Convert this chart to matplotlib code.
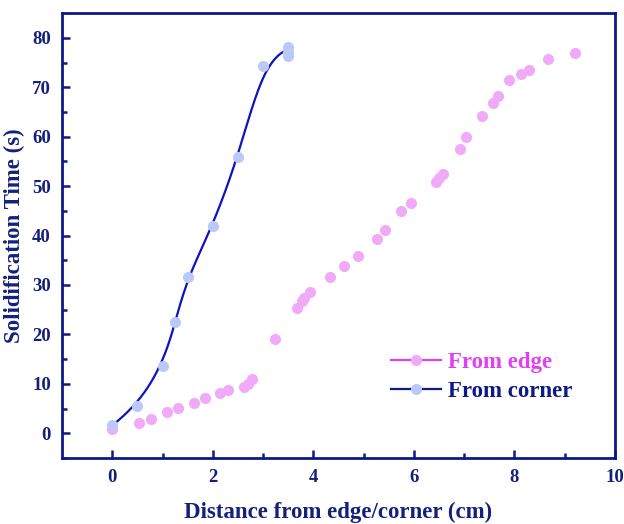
import numpy as np
import matplotlib.pyplot as plt
from matplotlib.lines import Line2D

plt.rcParams['font.family'] = ['Liberation Serif', 'DejaVu Serif']
plt.rcParams['font.weight'] = 'bold'

# distance from edge (cm) vs solidification time (s)
edge_x = [0.0, 0.54, 0.76, 1.08, 1.31, 1.62, 1.84, 2.15, 2.30, 2.62, 2.70, 2.77,
          3.24, 3.67, 3.77, 3.82, 3.94, 4.33, 4.60, 4.88, 5.26, 5.42, 5.75, 5.95,
          6.43, 6.49, 6.57, 6.91, 7.04, 7.36, 7.58, 7.67, 7.89, 8.12, 8.29, 8.66, 9.20]
edge_y = [0.8, 2.0, 2.8, 4.2, 5.1, 6.2, 7.1, 8.2, 8.8, 9.3, 9.9, 11.0,
          19.0, 25.3, 26.7, 27.4, 28.6, 31.6, 33.9, 35.8, 39.4, 41.1, 44.9, 46.5,
          50.9, 51.6, 52.4, 57.6, 59.9, 64.2, 66.8, 68.3, 71.4, 72.6, 73.4, 75.8, 76.9]

# distance from corner (cm)
corner_x = [0.0, 0.5, 1.0, 1.25, 1.5, 2.0, 2.5, 3.0, 3.5, 3.5, 3.5]
corner_y = [1.6, 5.6, 13.6, 22.5, 31.6, 42.0, 55.8, 74.3, 78.1, 77.2, 76.4]

navy = '#0d1a85'
txt = '#14207a'
blue_line = '#0a14c0'
pink = '#f0aaf8'
lightblue = '#bcc8f8'
magenta = '#e040f0'


def basis(i, k, t, knots):
    # Cox-de Boor recursion
    if k == 0:
        last = knots[-1]
        b = ((knots[i] <= t) & (t < knots[i + 1])).astype(float)
        if knots[i + 1] == last and knots[i] < last:
            b[t == last] = 1.0
        return b
    out = np.zeros_like(t)
    d1 = knots[i + k] - knots[i]
    d2 = knots[i + k + 1] - knots[i + 1]
    if d1 > 0:
        out += (t - knots[i]) / d1 * basis(i, k - 1, t, knots)
    if d2 > 0:
        out += (knots[i + k + 1] - t) / d2 * basis(i + 1, k - 1, t, knots)
    return out


def bspline(xs, ys, k=3, n=400):
    # clamped cubic B-spline with the points as control points
    P = np.column_stack([xs, ys]).astype(float)
    m = len(P)
    inner = np.arange(1, m - k)
    knots = np.concatenate([[0] * (k + 1), inner, [m - k] * (k + 1)]).astype(float)
    t = np.linspace(0, m - k, n)
    pts = np.zeros((n, 2))
    for i in range(m):
        pts += np.outer(basis(i, k, t, knots), P[i])
    return pts[:, 0], pts[:, 1]


fig = plt.figure(figsize=(6.24, 5.24), dpi=100)
ax = fig.add_axes([0.0994, 0.126, 0.8862, 0.849])

cx, cy = bspline(corner_x, corner_y)
ax.plot(cx, cy, color=blue_line, lw=1.6, zorder=2)
ax.plot(edge_x, edge_y, 'o', color=pink, ms=8, mec='none', zorder=3)
ax.plot(corner_x, corner_y, 'o', color=lightblue, ms=8, mec='none', zorder=3)

ax.set_xlim(-1, 10)
ax.set_ylim(-5, 85)
ax.set_xticks([0, 2, 4, 6, 8, 10])
ax.set_xticks([1, 3, 5, 7, 9], minor=True)
ax.set_yticks(range(0, 90, 10))
ax.set_yticks(range(-5, 85, 10), minor=True)

for s in ax.spines.values():
    s.set_color(navy)
    s.set_linewidth(2.0)
ax.tick_params(which='both', direction='in', color=navy, width=1.8,
               labelcolor=txt, labelsize=13.5, top=False, right=False)
ax.tick_params(which='major', length=6, pad=8)
ax.tick_params(which='minor', length=3.5)
for lab in ax.get_xticklabels() + ax.get_yticklabels():
    lab.set_fontweight('bold')

ax.set_xlabel('Distance from edge/corner (cm)', fontsize=16.5, fontweight='bold',
              color=txt, labelpad=11)
ax.set_ylabel('Solidification Time (s)', fontsize=16.5, fontweight='bold',
              color=txt, labelpad=5)

handles = [Line2D([], [], color=magenta, lw=1.6, marker='o', ms=8,
                  mfc=pink, mec='none'),
           Line2D([], [], color=navy, lw=1.6, marker='o', ms=8,
                  mfc=lightblue, mec='none')]
leg = ax.legend(handles, ['From edge', 'From corner'], loc='upper left',
                bbox_to_anchor=(0.557, 0.285), frameon=False,
                prop={'size': 16.5, 'weight': 'bold'}, handlelength=2.2,
                handletextpad=0.3, labelspacing=0.35)
leg.get_texts()[0].set_color(magenta)
leg.get_texts()[1].set_color(navy)

fig.savefig('out.png', dpi=100)
